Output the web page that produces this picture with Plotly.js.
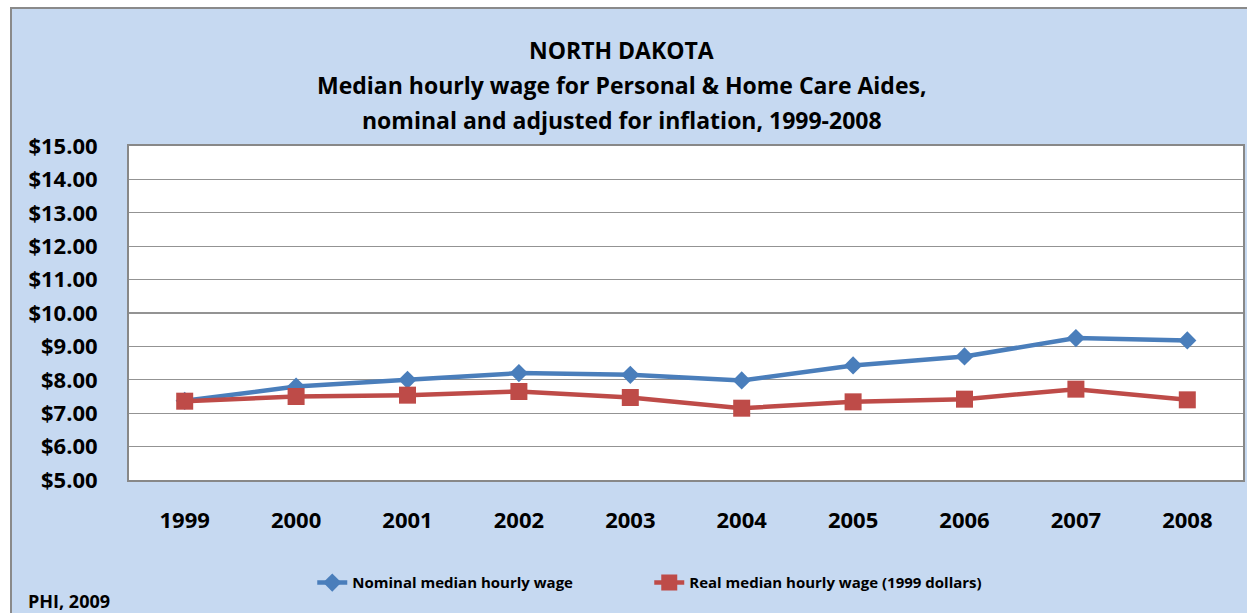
<!DOCTYPE html>
<html>
<head>
<meta charset="utf-8">
<script src="https://cdn.plot.ly/plotly-3.0.1.min.js"></script>
<style>
  html, body { margin:0; padding:0; background:#ffffff; width:1247px; height:613px; overflow:hidden; }
  #frame { position:absolute; left:10px; top:7px; width:1237px; height:606px; box-sizing:border-box;
           border-left:2px solid #8a8a8a; border-top:2px solid #8a8a8a; background:#C6D9F1; }
  #chart { width:1235px; height:604px; }
</style>
</head>
<body>
<div id="frame"><div id="chart"></div></div>
<script>
const years = ['1999','2000','2001','2002','2003','2004','2005','2006','2007','2008'];
const nominalWage = [7.37, 7.80, 8.00, 8.20, 8.15, 7.98, 8.43, 8.70, 9.25, 9.18];
const realWage = [7.36, 7.50, 7.54, 7.65, 7.47, 7.15, 7.34, 7.42, 7.72, 7.40];
const yTicks = [5,6,7,8,9,10,11,12,13,14,15];
const yTickLabels = yTicks.map(v => '$' + v.toFixed(2));
const titleLines = ['NORTH DAKOTA', 'Median hourly wage for Personal & Home Care Aides,', 'nominal and adjusted for inflation, 1999-2008'];

const FONT = 'Open Sans, Noto Sans, sans-serif';

const traces = [
  { x: years, y: nominalWage, type:'scatter', mode:'lines+markers', name:'<b>Nominal median hourly wage</b>',
    line:{color:'#4A7EBB', width:4.5}, marker:{symbol:'diamond', size:14, color:'#4A7EBB'} },
  { x: years, y: realWage, type:'scatter', mode:'lines+markers', name:'<b>Real median hourly wage (1999 dollars)</b>',
    line:{color:'#BE4B48', width:4.5}, marker:{symbol:'square', size:17, color:'#BE4B48'} }
];

const titleY = [1.2874, 1.1826, 1.0778];
const annotations = titleLines.map((t, i) => ({
  text: '<b>' + t + '</b>', xref:'paper', yref:'paper', x:0.4425, y:titleY[i],
  xanchor:'center', yanchor:'middle', showarrow:false, font:{family:FONT, size:23, color:'#000'}
}));
annotations.push({ text:'<b>PHI, 2009</b>', xref:'paper', yref:'paper', x:-0.0925, y:-0.362,
  xanchor:'left', yanchor:'middle', showarrow:false, font:{family:FONT, size:18, color:'#000'} });

const layout = {
  width:1235, height:604,
  margin:{l:117, r:4, t:137, b:133},
  paper_bgcolor:'rgba(0,0,0,0)', plot_bgcolor:'#ffffff',
  font:{family:FONT, color:'#000'},
  showlegend:true,
  legend:{orientation:'h', x:0.1645, y:-0.308, xanchor:'left', yanchor:'middle',
          entrywidth:292, entrywidthmode:'pixels',
          font:{family:FONT, size:15, color:'#000'}, bgcolor:'rgba(0,0,0,0)', traceorder:'normal'},
  xaxis:{ type:'category', range:[-0.5, 9.5], tickfont:{family:FONT, size:22, color:'#000'}, showgrid:false,
          showline:true, linecolor:'#888888', linewidth:2, mirror:true, ticks:'', ticklabelstandoff:20,
          tickprefix:'<b>', ticksuffix:'</b>', fixedrange:true },
  yaxis:{ range:[5,15], tickvals:yTicks, ticktext:yTickLabels.map(s => '<b>' + s + '</b>'),
          tickfont:{family:FONT, size:22, color:'#000'}, showgrid:true, gridcolor:'#939393', gridwidth:1.3,
          showline:true, linecolor:'#888888', linewidth:2, mirror:true, ticks:'', ticklabelstandoff:25,
          zeroline:false, fixedrange:true },
  annotations: annotations
};

Plotly.newPlot('chart', traces, layout, {displayModeBar:false, staticPlot:true});
</script>
</body>
</html>
